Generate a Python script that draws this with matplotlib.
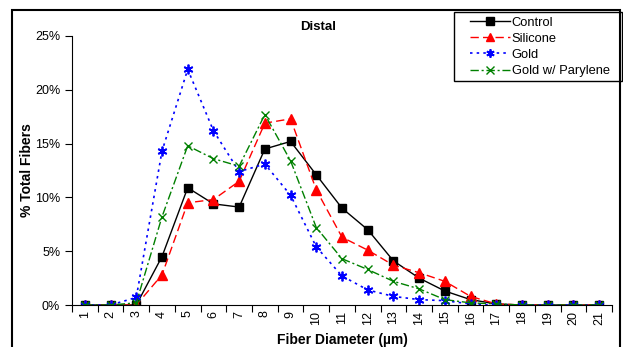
import matplotlib
matplotlib.use('Agg')
import matplotlib.pyplot as plt
from matplotlib.patches import Rectangle
from matplotlib.ticker import PercentFormatter, FixedLocator

plt.rcParams['font.family'] = ['Liberation Sans', 'DejaVu Sans']

diameters = list(range(1, 22))
control = [0, 0, 0, 4.5, 10.9, 9.4, 9.1, 14.5, 15.2, 12.1, 9.0, 7.0, 4.1, 2.5, 1.3, 0.5, 0.1, 0, 0, 0, 0]
silicone = [0, 0, 0, 2.8, 9.5, 9.8, 11.5, 16.9, 17.3, 10.7, 6.3, 5.1, 3.7, 3.0, 2.2, 0.8, 0.1, 0, 0, 0, 0]
gold = [0, 0, 0.7, 14.3, 21.9, 16.2, 12.4, 13.1, 10.2, 5.4, 2.7, 1.4, 0.8, 0.5, 0.4, 0.1, 0, 0, 0, 0, 0]
parylene = [0, 0, 0.2, 8.2, 14.8, 13.6, 12.9, 17.7, 13.4, 7.2, 4.3, 3.3, 2.2, 1.5, 0.5, 0.2, 0.1, 0, 0, 0, 0]

fig = plt.figure(figsize=(6.23, 3.47), dpi=100)
ax = fig.add_axes([72/623, 1-305/347, 540/623, 269/347])

ax.plot(diameters, control, color='black', ls='-', lw=1, marker='s', ms=6, label='Control')
ax.plot(diameters, silicone, color='red', ls=(0, (6, 3)), lw=1, marker='^', ms=6.5, label='Silicone')
ax.plot(diameters, gold, color='blue', ls=(0, (1.5, 2.5)), lw=1.2, marker=(6, 2, 0), ms=7, mew=1.3, label='Gold')
ax.plot(diameters, parylene, color='green', ls=(0, (6, 2, 1.5, 2)), lw=1, marker='x', ms=6, mew=1, label='Gold w/ Parylene')

ax.set_xlim(0.5, 21.5)
ax.set_ylim(0, 25)
ax.yaxis.set_major_locator(FixedLocator([0, 5, 10, 15, 20, 25]))
ax.yaxis.set_major_formatter(PercentFormatter(decimals=0))
ax.set_xticks([k + 0.5 for k in range(0, 22)])
ax.set_xticklabels([])
ax.set_xticks(diameters, minor=True)
ax.set_xticklabels([str(d) for d in diameters], minor=True, rotation=90, fontsize=9)
ax.tick_params(axis='x', which='minor', length=0, pad=4)
ax.tick_params(axis='x', which='major', length=5, direction='out')
ax.tick_params(axis='y', length=5, direction='out', labelsize=9)
for s in ['top', 'right']:
    ax.spines[s].set_visible(False)

ax.set_xlabel('Fiber Diameter (µm)', fontweight='bold', fontsize=10, labelpad=6)
ax.set_ylabel('% Total Fibers', fontweight='bold', fontsize=10, labelpad=1)
fig.text(318/623, 1-27/347, 'Distal', fontweight='bold', fontsize=9.5, ha='center', va='center')

# legend without its own frame, box drawn separately
leg = ax.legend(loc='upper left', bbox_to_anchor=(467/623, 1-14/347), bbox_transform=fig.transFigure,
                fontsize=9.3, frameon=False, handlelength=3.1, markerscale=0.85,
                handletextpad=0.15, labelspacing=0.32, borderpad=0.2, borderaxespad=0)
fig.patches.append(Rectangle((454/623, 1-81/347), 168/623, 69/347, transform=fig.transFigure,
                             fill=False, edgecolor='black', lw=1))

# outer chart frame
fig.patches.append(Rectangle((12/623, -0.2), 608/623, 1.2 - 10/347, transform=fig.transFigure,
                             fill=False, edgecolor='black', lw=1.5))

fig.savefig('out.png', dpi=100)
